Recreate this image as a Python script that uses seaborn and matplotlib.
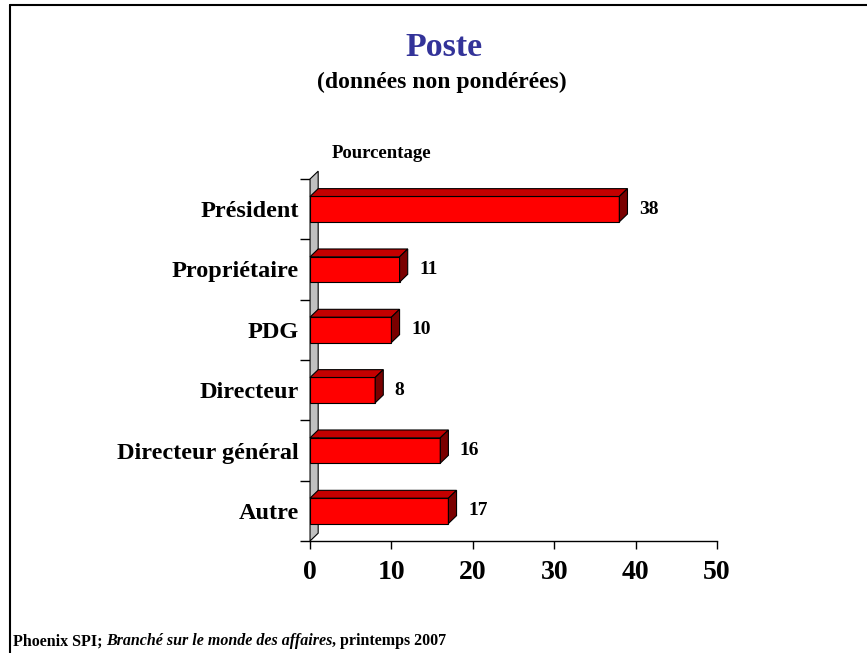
"""Poste - bar chart with a 3D look (données non pondérées)."""

import numpy as np
import pandas as pd
import seaborn as sns
import matplotlib.pyplot as plt
from matplotlib.patches import Polygon
from matplotlib.lines import Line2D

###################################################################################################
###################################################################################################

categories = ['Président', 'Propriétaire', 'PDG', 'Directeur', 'Directeur général', 'Autre']
values = [38, 11, 10, 8, 16, 17]
xticks = [0, 10, 20, 30, 40, 50]

FRONT = '#FF0000'
TOP = '#C40000'
SIDE = '#7A0000'
WALL = '#C0C0C0'
TITLE_COL = '#333399'
SERIF = 'Liberation Serif'

# depth of the 3D effect, in data units
DX = 1.0
DY = 0.13

###################################################################################################
###################################################################################################

sns.set_style('white')
plt.rcParams['font.family'] = [SERIF, 'DejaVu Serif']
plt.rcParams['text.color'] = 'black'
plt.rcParams['xtick.color'] = 'black'
plt.rcParams['ytick.color'] = 'black'
plt.rcParams['axes.labelcolor'] = 'black'

df = pd.DataFrame({'poste': categories, 'pct': values})

fig = plt.figure(figsize=[8.67, 6.53], dpi=100)
ax = fig.add_axes([0.3576, 0.1715, 0.4694, 0.5544])

sns.barplot(data=df, y='poste', x='pct', orient='h', color=FRONT, saturation=1,
            width=0.42, edgecolor='black', linewidth=0.8, ax=ax, zorder=3)

ax.set_xlim(0, 50)
ax.set_ylim(5.5, -0.5)

# wall behind the bars
wall = Polygon([(0, 5.5), (0, -0.5), (DX, -0.5 - DY), (DX, 5.5 - DY)], closed=True,
               facecolor=WALL, edgecolor='black', linewidth=0.8, clip_on=False, zorder=1)
ax.add_patch(wall)

# top and side faces + value labels
for patch, val in zip(list(ax.patches)[:len(values)], values):
    x0, y0 = patch.get_x(), patch.get_y()
    w, h = patch.get_width(), patch.get_height()
    yt, yb = min(y0, y0 + h), max(y0, y0 + h)
    x1 = x0 + w
    top = Polygon([(x0, yt), (x1, yt), (x1 + DX, yt - DY), (x0 + DX, yt - DY)], closed=True,
                  facecolor=TOP, edgecolor='black', linewidth=0.8, clip_on=False, zorder=3)
    side = Polygon([(x1, yt), (x1, yb), (x1 + DX, yb - DY), (x1 + DX, yt - DY)], closed=True,
                   facecolor=SIDE, edgecolor='black', linewidth=0.8, clip_on=False, zorder=3)
    ax.add_patch(top)
    ax.add_patch(side)
    ax.text(x1 + DX + 1.4, (yt + yb) / 2, str(val), ha='left', va='center',
            fontsize=14, fontweight='bold', family=SERIF)

sns.despine(ax=ax, left=True)
ax.spines['bottom'].set_linewidth(1.0)
ax.spines['bottom'].set_color('black')

ax.set_xticks(xticks)
ax.set_xticklabels([str(t) for t in xticks], fontsize=20, fontweight='bold')
ax.tick_params(axis='x', direction='out', length=6, width=1, color='black', pad=8, bottom=True)

ax.set_yticks(range(len(categories)))
ax.set_yticklabels(categories, fontsize=17.5, fontweight='bold')
ax.set_yticks(np.arange(-0.5, len(categories)), minor=True)
ax.tick_params(axis='y', which='major', length=0, pad=8, left=False)
ax.tick_params(axis='y', which='minor', direction='out', length=7, width=1, color='black', left=True)
ax.set_xlabel('')
ax.set_ylabel('')
ax.grid(False)

# titles
fig.text(0.512, 0.928, 'Poste', ha='center', va='center', fontsize=24.5, fontweight='bold',
         color=TITLE_COL, family=SERIF)
fig.text(0.510, 0.874, '(données non pondérées)', ha='center', va='center', fontsize=17,
         fontweight='bold', family=SERIF)
fig.text(0.440, 0.765, 'Pourcentage', ha='center', va='center', fontsize=13.5,
         fontweight='bold', family=SERIF)

# frame lines (top and left)
fig.add_artist(Line2D([0.0115, 1.0], [0.9923, 0.9923], color='black', linewidth=1.5,
                      transform=fig.transFigure))
fig.add_artist(Line2D([0.0115, 0.0115], [0.0, 0.9923], color='black', linewidth=1.5,
                      transform=fig.transFigure))

# footer with mixed styles
fig.canvas.draw()
renderer = fig.canvas.get_renderer()
pieces = [('Phoenix SPI; ', 'normal'), ('Branché sur le monde des affaires', 'italic'),
          (', printemps 2007', 'normal')]
x_px = 0.0145 * fig.bbox.width
for txt, style in pieces:
    t = fig.text(x_px / fig.bbox.width, 0.012, txt, ha='left', va='baseline', fontsize=11.5,
                 fontweight='bold', style=style, family=SERIF)
    x_px += t.get_window_extent(renderer).width

fig.savefig('out.png', dpi=100)
